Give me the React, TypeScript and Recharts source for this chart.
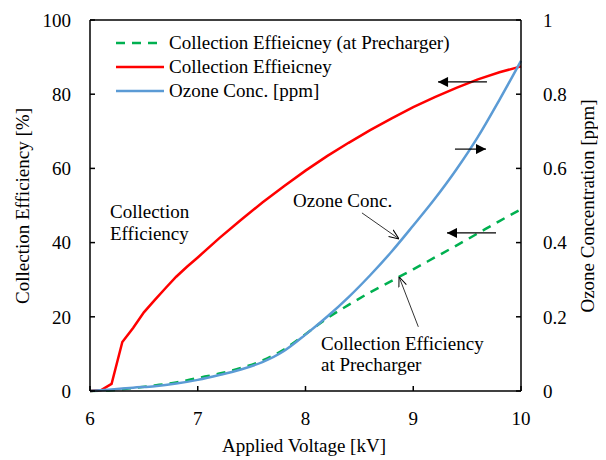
import React from 'react';
import { LineChart, Line, XAxis, YAxis, ReferenceLine, Legend } from 'recharts';

const redVoltage = [6.0, 6.1, 6.2, 6.3, 6.4, 6.5, 6.6, 6.7, 6.8, 6.9, 7.0, 7.2, 7.4, 7.6, 7.8, 8.0, 8.2, 8.4, 8.6, 8.8, 9.0, 9.2, 9.4, 9.6, 9.8, 10.0];
const redEfficiency = [0, 0.2, 1.9, 13.2, 17, 21.2, 24.5, 27.7, 30.8, 33.5, 36, 41.2, 46.1, 50.8, 55.2, 59.4, 63.3, 66.9, 70.3, 73.5, 76.5, 79.2, 81.7, 84, 85.9, 87.5];

const voltage = [6.0, 6.2, 6.4, 6.6, 6.8, 7.0, 7.2, 7.4, 7.6, 7.8, 8.0, 8.2, 8.4, 8.6, 8.8, 9.0, 9.2, 9.4, 9.6, 9.8, 10.0];
const prechargerEfficiency = [0, 0.2, 0.8, 1.5, 2.3, 3.5, 4.7, 6.2, 8.2, 11.2, 15.3, 19.6, 23.2, 26.6, 29.7, 32.8, 36, 39.2, 42.5, 45.8, 49];
const ozoneConc = [0, 0.004, 0.009, 0.013, 0.02, 0.03, 0.043, 0.058, 0.078, 0.108, 0.152, 0.2, 0.253, 0.312, 0.376, 0.446, 0.518, 0.597, 0.685, 0.785, 0.89];

const xTicks = [6, 7, 8, 9, 10];
const leftTicks = [0, 20, 40, 60, 80, 100];
const rightTicks = [0, 0.2, 0.4, 0.6, 0.8, 1];

const legendItems = [
  { name: 'Collection Effieicney (at Precharger)', color: '#00B050', dash: '9 7' },
  { name: 'Collection Effieicney', color: '#FF0000', dash: undefined },
  { name: 'Ozone Conc. [ppm]', color: '#5B9BD5', dash: undefined },
];

const redData = redVoltage.map((v, i) => ({ v, eff: redEfficiency[i] }));
const greenData = voltage.map((v, i) => ({ v, pre: prechargerEfficiency[i] }));
const blueData = voltage.map((v, i) => ({ v, oz: ozoneConc[i] }));

const renderLegend = () => (
  <div style={{ fontSize: 19, color: '#000', lineHeight: '24px' }}>
    {legendItems.map((it) => (
      <div key={it.name} style={{ display: 'flex', alignItems: 'center', height: 24, whiteSpace: 'nowrap' }}>
        <svg width={50} height={10} style={{ marginRight: 3 }}>
          <line x1={0} y1={5} x2={48} y2={5} stroke={it.color} strokeWidth={2.5} strokeDasharray={it.dash} />
        </svg>
        <span>{it.name}</span>
      </div>
    ))}
  </div>
);

const tickStyle = { fontSize: 19, fill: '#000' };
const axisStroke = { stroke: '#000', strokeWidth: 1.5 };
const textProps = { fontSize: 19, fill: '#000' };

export default function App() {
  return (
    <div style={{ margin: '-8px 0 0 -8px', width: 606, height: 460 }}>
      <LineChart width={606} height={460} margin={{ top: 20, right: 25, bottom: 29, left: 30 }}>
        <defs>
          <marker id="arrowFilled" viewBox="0 0 10 10" refX="10" refY="5" markerWidth="12" markerHeight="10" markerUnits="userSpaceOnUse" orient="auto">
            <path d="M0,0 L10,5 L0,10 z" fill="#000" />
          </marker>
          <marker id="arrowOpen" viewBox="0 0 10 10" refX="10" refY="5" markerWidth="10" markerHeight="10" markerUnits="userSpaceOnUse" orient="auto">
            <path d="M0,1 L10,5 L0,9" fill="none" stroke="#000" strokeWidth="1" />
          </marker>
        </defs>
        <XAxis
          type="number"
          dataKey="v"
          domain={[6, 10]}
          ticks={xTicks}
          allowDuplicatedCategory={false}
          height={40}
          tickSize={-5}
          tickMargin={26}
          tick={tickStyle}
          axisLine={axisStroke}
          tickLine={axisStroke}
        />
        <YAxis
          yAxisId="left"
          domain={[0, 100]}
          ticks={leftTicks}
          width={60}
          tickSize={-5}
          tickMargin={24}
          tick={tickStyle}
          axisLine={axisStroke}
          tickLine={axisStroke}
        />
        <YAxis
          yAxisId="right"
          orientation="right"
          domain={[0, 1]}
          ticks={rightTicks}
          width={60}
          tickSize={-5}
          tickMargin={27}
          tick={tickStyle}
          tickFormatter={(t: number) => String(t)}
          axisLine={axisStroke}
          tickLine={axisStroke}
        />
        <ReferenceLine yAxisId="left" y={100} stroke="#000" strokeWidth={1.5} />
        <Legend content={renderLegend} layout="vertical" verticalAlign="middle" align="center" wrapperStyle={{ left: 116, top: 31, width: 400 }} />
        <Line yAxisId="left" data={greenData} dataKey="pre" type="monotone" stroke="#00B050" strokeWidth={2.5} strokeDasharray="9 7" dot={false} isAnimationActive={false} />
        <Line yAxisId="left" data={redData} dataKey="eff" type="linear" stroke="#FF0000" strokeWidth={2.5} dot={false} isAnimationActive={false} />
        <Line yAxisId="right" data={blueData} dataKey="oz" type="monotone" stroke="#5B9BD5" strokeWidth={2.5} dot={false} isAnimationActive={false} />

        <ReferenceLine yAxisId="left" segment={[{ x: 9.684, y: 83.3 }, { x: 9.23, y: 83.3 }]} stroke="#000" strokeWidth={1.2} markerEnd="url(#arrowFilled)" />
        <ReferenceLine yAxisId="left" segment={[{ x: 9.387, y: 65.2 }, { x: 9.675, y: 65.2 }]} stroke="#000" strokeWidth={1.2} markerEnd="url(#arrowFilled)" />
        <ReferenceLine yAxisId="left" segment={[{ x: 9.768, y: 42.6 }, { x: 9.313, y: 42.6 }]} stroke="#000" strokeWidth={1.2} markerEnd="url(#arrowFilled)" />
        <ReferenceLine yAxisId="left" segment={[{ x: 8.524, y: 48 }, { x: 8.868, y: 41 }]} stroke="#000" strokeWidth={0.8} markerEnd="url(#arrowOpen)" />
        <ReferenceLine yAxisId="left" segment={[{ x: 9.047, y: 17.3 }, { x: 8.868, y: 30.8 }]} stroke="#000" strokeWidth={0.8} markerEnd="url(#arrowOpen)" />

        <text x={110} y={218} {...textProps}>Collection</text>
        <text x={110} y={240} {...textProps}>Efficiency</text>
        <text x={293} y={207} {...textProps}>Ozone Conc.</text>
        <text x={321} y={350} {...textProps}>Collection Efficiency</text>
        <text x={321} y={371} {...textProps}>at Precharger</text>

        <text x={304} y={452} {...textProps} textAnchor="middle">Applied Voltage [kV]</text>
        <text x={0} y={0} {...textProps} textAnchor="middle" transform="translate(29,206) rotate(-90)">Collection Efficiency [%]</text>
        <text x={0} y={0} {...textProps} textAnchor="middle" transform="translate(594,206) rotate(-90)">Ozone Concentration [ppm]</text>
      </LineChart>
    </div>
  );
}
